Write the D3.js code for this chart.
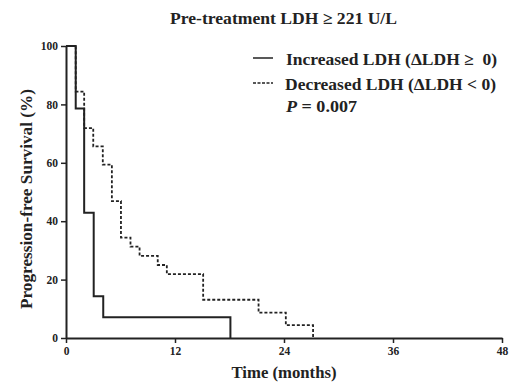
<!DOCTYPE html>
<html><head><meta charset="utf-8">
<script src="https://cdn.jsdelivr.net/npm/d3@7"></script>
<style>body{margin:0;background:#fff}svg{display:block}text{font-family:"Liberation Serif","Times New Roman",serif;font-weight:bold;fill:#222}</style>
</head><body>
<script>
const title = "Pre-treatment LDH \u2265 221 U/L";
const xTicks = [0, 12, 24, 36, 48];
const yTicks = [0, 20, 40, 60, 80, 100];
// Increased LDH: step times (months) and survival (%) after each step
const incTimes = [0, 1.07, 2.0, 3.05, 4.1, 18.1];
const incSurv  = [100, 78.6, 42.9, 14.3, 7.1, 0];
// Decreased LDH
const decTimes = [0, 1.07, 2.0, 3.0, 4.05, 5.05, 6.05, 7.1, 8.1, 10.1, 11.1, 15.1, 21.2, 24.2, 27.2];
const decSurv  = [100, 84.4, 71.9, 65.6, 59.4, 46.9, 34.4, 31.3, 28.1, 25.0, 21.9, 13.1, 8.7, 4.4, 0];
const legendLabels = ["Increased LDH (\u0394LDH \u2265\u00a0 0)", "Decreased LDH (\u0394LDH < 0)"];

const W = 511, H = 383;
const svg = d3.select("body").append("svg").attr("width", W).attr("height", H);
const x = d3.scaleLinear().domain([0, 48]).range([66, 502]);
const y = d3.scaleLinear().domain([0, 100]).range([338, 46]);

const xAxis = svg.append("g").attr("transform", "translate(0,338)")
  .call(d3.axisBottom(x).tickValues(xTicks).tickSize(5).tickPadding(4).tickSizeOuter(0));
const yAxis = svg.append("g").attr("transform", "translate(66,0)")
  .call(d3.axisLeft(y).tickValues(yTicks).tickSize(5).tickPadding(3).tickSizeOuter(0));
[xAxis, yAxis].forEach(g => {
  g.select(".domain").attr("stroke", "#222").attr("stroke-width", 2);
  g.selectAll(".tick line").attr("stroke", "#222").attr("stroke-width", 1.5);
  g.selectAll(".tick text").attr("font-size", 11.5).attr("fill", "#222")
    .attr("font-family", "Liberation Serif").attr("font-weight", "bold");
});

function stepPts(times, surv) {
  const pts = [[times[0], surv[0]]];
  for (let i = 1; i < times.length; i++) {
    pts.push([times[i], surv[i - 1]]);
    pts.push([times[i], surv[i]]);
  }
  return pts;
}
const line = d3.line().x(d => x(d[0])).y(d => y(d[1]));
svg.append("path").datum(stepPts(decTimes, decSurv)).attr("d", line)
  .attr("fill", "none").attr("stroke", "#222").attr("stroke-width", 1.8).attr("stroke-dasharray", "3,2");
svg.append("path").datum(stepPts(incTimes, incSurv)).attr("d", line)
  .attr("fill", "none").attr("stroke", "#222").attr("stroke-width", 2);

function txt(xp, yp, s, len, anchor) {
  const t = svg.append("text").attr("x", xp).attr("y", yp).attr("font-size", 17)
    .attr("text-anchor", anchor || "start").text(s);
  if (len) t.attr("textLength", len).attr("lengthAdjust", "spacingAndGlyphs");
  return t;
}
txt(283.5, 24, title, 227, "middle");
txt(284, 378, "Time (months)", 105, "middle");
svg.append("text").attr("transform", "translate(32,199) rotate(-90)").attr("text-anchor", "middle")
  .attr("font-size", 17).attr("textLength", 220).attr("lengthAdjust", "spacingAndGlyphs")
  .text("Progression-free Survival (%)");

// legend
svg.append("line").attr("x1", 253).attr("x2", 273).attr("y1", 58).attr("y2", 58).attr("stroke", "#222").attr("stroke-width", 1.5);
svg.append("line").attr("x1", 253).attr("x2", 273).attr("y1", 83).attr("y2", 83).attr("stroke", "#222").attr("stroke-width", 1.5).attr("stroke-dasharray", "3,1.5");
txt(286, 65, legendLabels[0], 211);
txt(285, 90, legendLabels[1], 211);
const pt = svg.append("text").attr("x", 286).attr("y", 112).attr("font-size", 17)
  .attr("textLength", 71).attr("lengthAdjust", "spacingAndGlyphs");
pt.append("tspan").attr("font-style", "italic").text("P");
pt.append("tspan").text(" = 0.007");
</script>
</body></html>
